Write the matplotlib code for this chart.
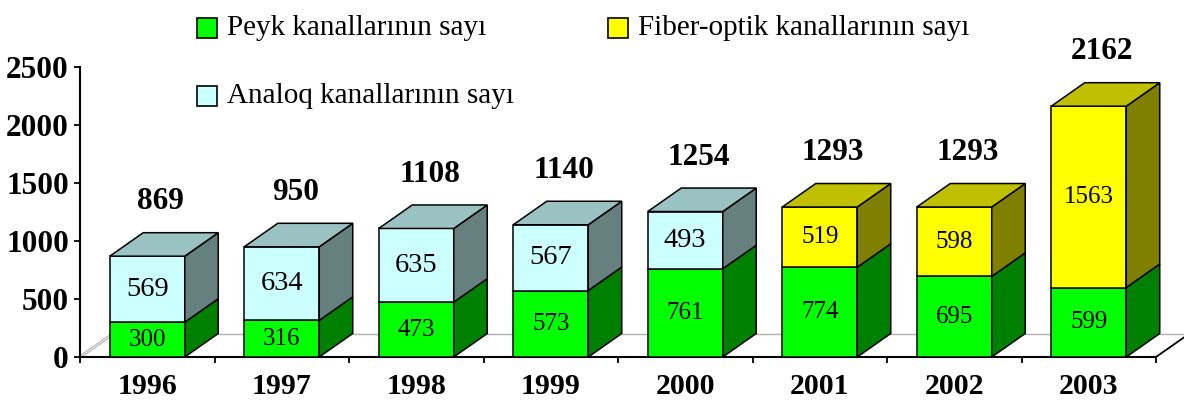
import matplotlib
matplotlib.use("Agg")
import matplotlib.pyplot as plt
from matplotlib.patches import Polygon, Rectangle

plt.rcParams['font.family'] = ['Liberation Serif', 'DejaVu Serif']

# channel counts per year
years = ['1996', '1997', '1998', '1999', '2000', '2001', '2002', '2003']
peyk = [300, 316, 473, 573, 761, 774, 695, 599]
analoq = [569, 634, 635, 567, 493, 0, 0, 0]
fiber = [0, 0, 0, 0, 0, 519, 598, 1563]

labels = ['Peyk kanallarının sayı', 'Fiber-optik kanallarının sayı',
          'Analoq kanallarının sayı']

# front, side, top colours of each series
colors = {
    'peyk': ('#00FF00', '#008000', '#00C000'),
    'analoq': ('#CCFFFF', '#668080', '#9BC2C2'),
    'fiber': ('#FFFF00', '#808000', '#C0C000'),
}

W, H = 1184, 400
fig = plt.figure(figsize=(W / 100, H / 100), dpi=100)
ax_l, ax_r, ax_b, ax_t = 80, 1156, 357, 67
ax = fig.add_axes([ax_l / W, (H - ax_b) / H, (ax_r - ax_l) / W, (ax_b - ax_t) / H])
ax.set_xlim(0, len(years))
ax.set_ylim(0, 2500)

px_x = (ax_r - ax_l) / len(years)   # pixels per category
px_y = (ax_b - ax_t) / 2500         # pixels per unit
dx = 33.5 / px_x                    # depth offset in data units
dy = 23.5 / px_y
half = 37.5 / px_x                  # half front width

# floor
n = len(years)
ax.plot([dx, n + dx], [dy, dy], color='#B0B0B0', lw=1, zorder=1, clip_on=False)
ax.plot([0, dx], [0, dy], color='#B0B0B0', lw=2.2, zorder=1, clip_on=False)
ax.plot([0, dx], [0, dy], color='white', lw=0.6, zorder=1, clip_on=False)
ax.plot([n, n + dx], [0, dy], color='black', lw=1.3, zorder=1, clip_on=False)

ec = 'black'
lw = 1.1
for i in range(n):
    x0 = i + 0.5 - half
    x1 = i + 0.5 + half
    bottom = 0
    segs = [(peyk[i], 'peyk', 18), (analoq[i], 'analoq', 20.5), (fiber[i], 'fiber', 18)]
    segs = [s for s in segs if s[0] > 0]
    for k, (v, name, fs) in enumerate(segs):
        front, side, top = colors[name]
        b, t = bottom, bottom + v
        ax.add_patch(Polygon([(x0, b), (x1, b), (x1, t), (x0, t)], closed=True,
                             fc=front, ec=ec, lw=lw, zorder=3, clip_on=False))
        ax.add_patch(Polygon([(x1, b), (x1 + dx, b + dy), (x1 + dx, t + dy), (x1, t)],
                             closed=True, fc=side, ec=ec, lw=lw, zorder=3, clip_on=False))
        if k == len(segs) - 1:
            ax.add_patch(Polygon([(x0, t), (x1, t), (x1 + dx, t + dy), (x0 + dx, t + dy)],
                                 closed=True, fc=top, ec=ec, lw=lw, zorder=3, clip_on=False))
        ax.text(i + 0.5, (b + t) / 2, str(v), ha='center', va='center',
                fontsize=fs, zorder=4)
        bottom = t
    ax.text(i + 0.5 + dx * 0.4, bottom + dy + 265, str(bottom), ha='center',
            va='center', fontsize=22.5, fontweight='bold', zorder=4, clip_on=False)
    ax.text(i + 0.5, -29 / px_y, years[i], ha='center', va='center',
            fontsize=21.5, fontweight='bold', clip_on=False)

for s in ['top', 'right']:
    ax.spines[s].set_visible(False)
ax.spines['left'].set_linewidth(1.5)
ax.spines['bottom'].set_linewidth(1.5)
ax.spines['bottom'].set_zorder(2)
ax.set_yticks(range(0, 2501, 500))
ax.set_yticklabels([str(v) for v in range(0, 2501, 500)], fontsize=22.5, fontweight='bold')
ax.tick_params(axis='y', direction='out', length=4, width=1.3, pad=4)
ax.set_xticks(range(n + 1))
ax.set_xticklabels([])
ax.tick_params(axis='x', direction='out', length=4, width=1.3)
ax.patch.set_visible(False)

# legend drawn by hand
leg = [(197, 28, labels[0], colors['peyk'][0]),
       (608, 28, labels[1], colors['fiber'][0]),
       (197, 96, labels[2], colors['analoq'][0])]
for lx, ly, txt, c in leg:
    fig.add_artist(Rectangle(((lx) / W, (H - ly - 10) / H), 20 / W, 20 / H,
                             transform=fig.transFigure, fc=c, ec='black', lw=1.2))
    fig.text((lx + 30) / W, (H - ly) / H, txt, ha='left', va='center', fontsize=21)

fig.savefig('out.png', dpi=100)
